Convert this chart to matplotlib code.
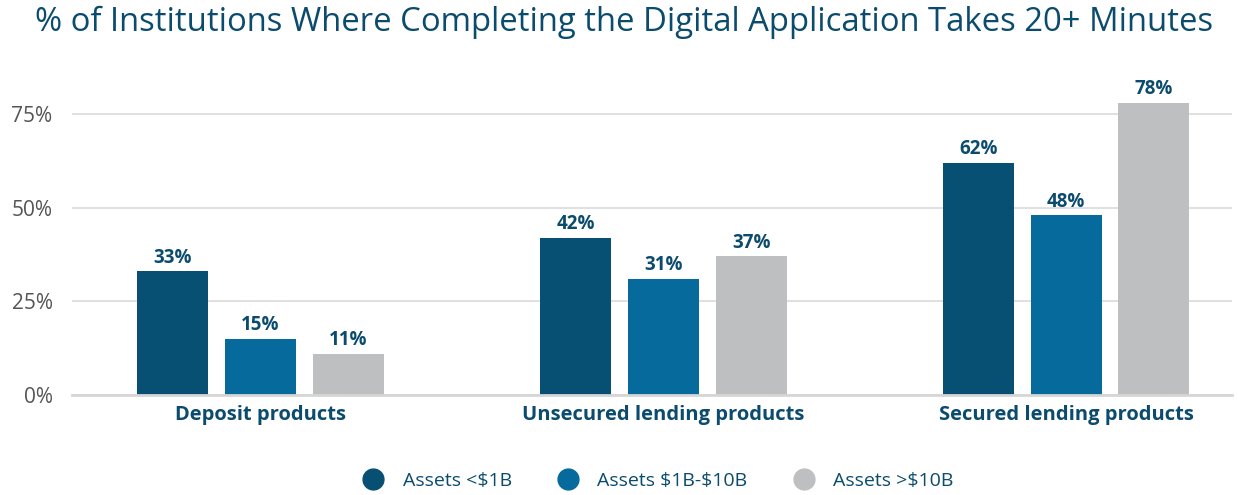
import numpy as np
import matplotlib.pyplot as plt
from matplotlib.lines import Line2D

categories = ['Deposit products', 'Unsecured lending products', 'Secured lending products']
series = [r'Assets <\$1B', r'Assets \$1B-\$10B', r'Assets >\$10B']
values = [[33, 15, 11], [42, 31, 37], [62, 48, 78]]  # per category
colors = ['#074f73', '#066a9c', '#bebfc1']
text_col = '#0b4b6e'

plt.rcParams['font.family'] = ['Open Sans', 'DejaVu Sans']

fig = plt.figure(figsize=(12.38, 4.95), dpi=100)
ax = fig.add_axes([72 / 1238, 1 - 395 / 495, (1232 - 72) / 1238, (395 - 88) / 495])

x = np.arange(len(categories))
width = 0.176
step = 0.218
for i, name in enumerate(series):
    vals = [v[i] for v in values]
    pos = x + (i - 1) * step
    ax.bar(pos, vals, width, color=colors[i], zorder=3, label=name)
    for p, v in zip(pos, vals):
        ax.text(p, v + 1.0, f'{v}%', ha='center', va='bottom', fontsize=13.5,
                fontweight='bold', color=text_col)

ax.set_xlim(-0.468, 2.412)
ax.set_ylim(0, 82)
ax.set_yticks([0, 25, 50, 75])
ax.set_yticklabels(['0%', '25%', '50%', '75%'], fontsize=15, color='#555555')
ax.set_xticks(x)
ax.set_xticklabels(categories, fontsize=14.5, fontweight='bold', color=text_col)
ax.tick_params(axis='both', length=0)
ax.tick_params(axis='x', pad=7)
ax.tick_params(axis='y', pad=14)
ax.grid(axis='y', color='#dddddd', linewidth=1.3, zorder=0)
for s in ['top', 'right', 'left']:
    ax.spines[s].set_visible(False)
ax.spines['bottom'].set_color('#d6d6d6')
ax.spines['bottom'].set_linewidth(2)
ax.spines['bottom'].set_zorder(4)

fig.text(35 / 1238, 1 - 22 / 495, '% of Institutions Where Completing the Digital Application Takes 20+ Minutes',
         fontsize=23.7, color=text_col, ha='left', va='center')

handles = [Line2D([], [], marker='o', linestyle='', markersize=15, color=c) for c in colors]
leg = fig.legend(handles, series, loc='center', bbox_to_anchor=(0.528, 1 - 481 / 495), ncol=3,
                 frameon=False, fontsize=14, handletextpad=0.5, columnspacing=1.9)
for t in leg.get_texts():
    t.set_color(text_col)

fig.savefig('out.png', dpi=100)
